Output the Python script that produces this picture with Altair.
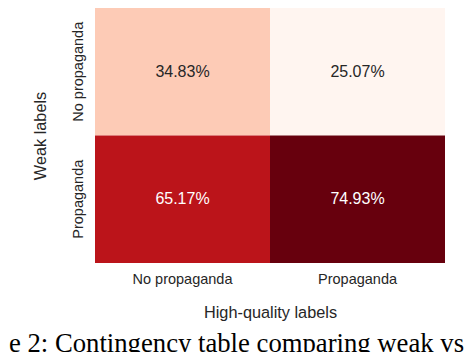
import altair as alt
import pandas as pd

weak_labels = ["No propaganda", "No propaganda", "Propaganda", "Propaganda"]
hq_labels = ["No propaganda", "Propaganda", "No propaganda", "Propaganda"]
percent = [34.83, 25.07, 65.17, 74.93]
label_order = ["No propaganda", "Propaganda"]
caption = "e 2: Contingency table comparing weak vs"

reds = ["#fff5f0", "#fee0d2", "#fcbba1", "#fc9272", "#fb6a4a",
        "#ef3b2c", "#cb181d", "#a50f15", "#67000d"]
lo, hi = min(percent), max(percent)
stops = [lo + (hi - lo) * i / (len(reds) - 1) for i in range(len(reds))]

df = pd.DataFrame({"weak": weak_labels, "hq": hq_labels, "pct": percent})
df["txt"] = [f"{v:.2f}%" for v in percent]

base = alt.Chart(df)

x_enc = alt.X("hq:N", sort=label_order, title="High-quality labels",
              axis=alt.Axis(labelAngle=0, ticks=False, domain=False, labelPadding=9,
                            labelFontSize=14.5, titleFontSize=16.3, titlePadding=19,
                            labelColor="#262626", titleColor="#262626",
                            labelFont="Liberation Sans", titleFont="Liberation Sans",
                            titleFontWeight="normal"))
y_enc = alt.Y("weak:N", sort=label_order, title="Weak labels",
              axis=alt.Axis(labelAngle=270, labelAlign="center", labelBaseline="bottom",
                            ticks=False, domain=False, labelPadding=10,
                            labelFontSize=14.5, titleFontSize=16.3, titlePadding=22,
                            labelColor="#262626", titleColor="#262626",
                            labelFont="Liberation Sans", titleFont="Liberation Sans",
                            titleFontWeight="normal"))

rect = base.mark_rect().encode(
    x=x_enc,
    y=y_enc,
    color=alt.Color("pct:Q", scale=alt.Scale(domain=stops, range=reds, interpolate="rgb"),
                    legend=None),
)

text = base.mark_text(font="Liberation Sans", fontSize=16).encode(
    x=alt.X("hq:N", sort=label_order),
    y=alt.Y("weak:N", sort=label_order),
    text="txt:N",
    color=alt.condition(alt.datum.pct > 50, alt.value("white"), alt.value("#262626")),
)

cap_df = pd.DataFrame({"t": [caption]})
cap = alt.Chart(cap_df).mark_text(font="Liberation Serif", fontSize=26.7, align="left",
                                  baseline="alphabetic", color="black").encode(
    x=alt.value(-86), y=alt.value(344), text="t:N")

chart = (rect + text + cap).properties(
    width=350, height=255,
    autosize=alt.AutoSizeParams(type="none"),
    padding={"left": 87, "top": 0, "right": 19, "bottom": 95},
).configure_view(stroke=None)

chart.save("out.html", embed_options={"renderer": "svg", "actions": False})
